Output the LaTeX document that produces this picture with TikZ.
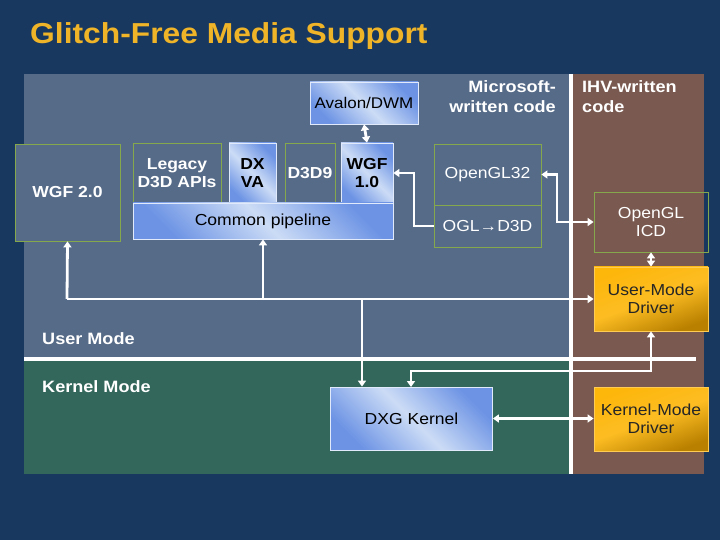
\documentclass[tikz,border=0pt]{standalone}
\usepackage{fontspec}
\setmainfont[FakeStretch=1.1]{Liberation Sans}
\usetikzlibrary{arrows.meta,shadings}
\definecolor{navy}{HTML}{183860}
\definecolor{panelblue}{HTML}{566B88}
\definecolor{kgreen}{HTML}{33675B}
\definecolor{ihvbrown}{HTML}{7A5A50}
\definecolor{titlegold}{HTML}{F0B428}
\definecolor{boxgreen}{HTML}{86A84C}
\definecolor{gblue}{HTML}{6C93E4}
\definecolor{glight}{HTML}{CCDCF6}
\definecolor{oraA}{HTML}{FDB60A}
\definecolor{oraB}{HTML}{B98000}
\tikzset{
  every node/.style={inner sep=0pt, align=center},
  outlinebox/.style={draw=boxgreen, line width=0.8bp, text=white, font=\fontsize{16}{18.5}\selectfont\bfseries},
  bluebox/.style={draw=glight!60!white, line width=0.8bp, shading=axis, top color=gblue, bottom color=gblue, middle color=glight, shading angle=-45, text=black, font=\fontsize{16}{18.5}\selectfont},
  orangebox/.style={draw=oraA!70!white, line width=0.8bp, shading=axis, left color=oraA, right color=oraB, middle color=oraA!90!white, shading angle=20, text=black!85, font=\fontsize{16}{18.5}\selectfont},
  wire/.style={draw=white, line width=2.8bp},
  tip/.style={-{Triangle[width=8bp,length=6bp]}},
  tips/.style={{Triangle[width=8bp,length=6bp]}-{Triangle[width=8bp,length=6bp]}},
  label/.style={text=white, font=\fontsize{16.5}{20}\selectfont\bfseries},
}
\begin{document}
\begin{tikzpicture}[x=1bp,y=-1bp]
\fill[navy] (0,0) rectangle (720,540);
\useasboundingbox (0,0) rectangle (720,540);
% title
\node[anchor=west, text=titlegold, font=\fontsize{29}{32}\selectfont\bfseries] (title) at (30,36) {Glitch-Free Media Support};
% panels
\fill[panelblue] (24,74) rectangle (571,360);
\fill[kgreen] (24,360) rectangle (571,474);
\fill[ihvbrown] (571,74) rectangle (704,474);
\draw[white, line width=4bp] (571,74) -- (571,474);
\draw[white, line width=4bp] (24,359) -- (696,359);
% region labels
\node[label, anchor=north east, align=right] (ms) at (556,80) {Microsoft-\\written code};
\node[label, anchor=north west, align=left] (ihv) at (582,80) {IHV-written\\code};
\node[label, anchor=west] (um) at (42,339) {User Mode};
\node[label, anchor=west] (km) at (42,387) {Kernel Mode};
% boxes
\node[bluebox, font=\fontsize{15.5}{18}\selectfont, minimum width=108bp, minimum height=42bp] (avalon) at (364,103) {Avalon/DWM};
\node[outlinebox, fill=panelblue, minimum width=105bp, minimum height=97bp] (wgf2) at (67.5,192.5) {WGF 2.0};
\node[outlinebox, minimum width=88bp, minimum height=60bp] (legacy) at (177,173) {Legacy\\D3D APIs};
\node[bluebox, font=\fontsize{16}{18.5}\selectfont\bfseries, minimum width=47bp, minimum height=60bp] (dxva) at (252.5,173) {DX\\VA};
\node[outlinebox, minimum width=50bp, minimum height=60bp] (d3d9) at (310,173) {D3D9};
\node[bluebox, font=\fontsize{16}{18.5}\selectfont\bfseries, minimum width=52bp, minimum height=60bp] (wgf1) at (367,173) {WGF\\1.0};
\node[bluebox, minimum width=260bp, minimum height=36bp] (common) at (263,221) {Common pipeline};
\node[outlinebox, font=\fontsize{16}{18.5}\selectfont, minimum width=107bp, minimum height=61bp] (ogl32) at (487.5,174.5) {OpenGL32};
\node[outlinebox, font=\fontsize{16}{18.5}\selectfont, minimum width=107bp, minimum height=42bp] (ogld3d) at (487.5,226) {OGL→D3D};
\node[outlinebox, font=\fontsize{16}{18.5}\selectfont, minimum width=114bp, minimum height=60bp] (icd) at (651,222) {OpenGL\\ICD};
\node[orangebox, minimum width=114bp, minimum height=64bp] (umd) at (651,299) {User-Mode\\Driver};
\node[orangebox, minimum width=114bp, minimum height=64bp] (kmd) at (651,419) {Kernel-Mode\\Driver};
\node[bluebox, minimum width=162bp, minimum height=63bp] (dxg) at (411.5,418.5) {DXG Kernel};
% connectors
\coordinate (hl) at (67,299);
\coordinate (bus) at (263,299);
\coordinate (drop) at (362,299);
\draw[wire, tips] (avalon.south) -- (wgf1.north);
\draw[wire, tips] (icd.south) -- (umd.north);
\draw[wire, tip] (hl) -- (wgf2.south);
\draw[wire, tip] (bus) -- (common.south);
\draw[wire, tip] (hl) -- (umd.west);
\draw[wire, tip] (drop) -- (drop |- dxg.north);
\draw[wire, tips] (umd.south) |- (411,371) -- (411,387);
\draw[wire, tips] (dxg.east) -- (kmd.west |- dxg.east);
\draw[wire, tip] (ogld3d.west) -- (414,226) |- (wgf1.east);
\draw[wire, tips] (ogl32.east) -| (557,222) -- (icd.west |- 0,222);
\end{tikzpicture}
\end{document}
